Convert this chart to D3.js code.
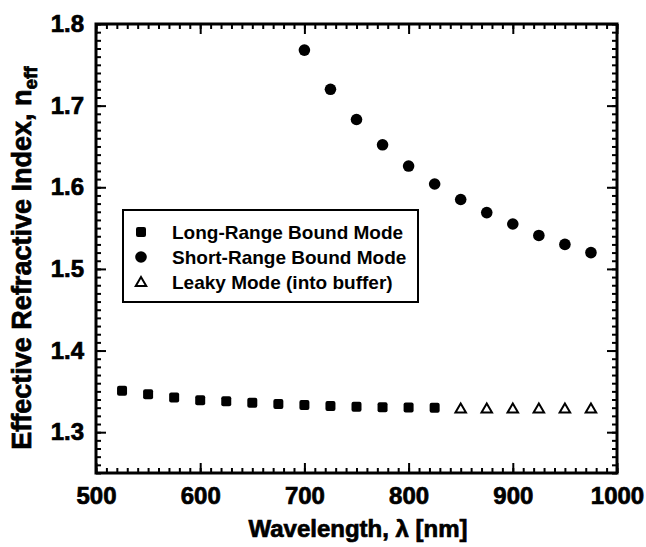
<!DOCTYPE html>
<html>
<head>
<meta charset="utf-8">
<script src="https://cdn.jsdelivr.net/npm/d3@7"></script>
<style>
  html, body { margin: 0; padding: 0; background: #fff; }
  svg { display: block; }
  text { font-family: "Liberation Sans", Arial, Helvetica, sans-serif; font-weight: bold; fill: #000; }
  .heavy { stroke: #000; stroke-width: 0.7px; }
</style>
</head>
<body>
<svg id="chart" width="646" height="547"></svg>
<script>
// Wavelength samples (nm) for each guided mode
const longRangeWavelengths = [525, 550, 575, 600, 625, 650, 675, 700, 725, 750, 775, 800, 825];
const longRangeIndex = [1.3506, 1.3466, 1.3425, 1.3392, 1.3380, 1.3362, 1.3345, 1.3333, 1.3322, 1.3313, 1.3305, 1.3302, 1.3300];

const shortRangeWavelengths = [700, 725, 750, 775, 800, 825, 850, 875, 900, 925, 950, 975];
const shortRangeIndex = [1.768, 1.720, 1.683, 1.652, 1.626, 1.604, 1.585, 1.569, 1.555, 1.541, 1.530, 1.520];

const leakyWavelengths = [850, 875, 900, 925, 950, 975];
const leakyIndex = [1.329, 1.329, 1.329, 1.329, 1.329, 1.329];

const xTicks = [500, 600, 700, 800, 900, 1000];
const yTicks = [1.3, 1.4, 1.5, 1.6, 1.7, 1.8];
const legendLabels = ["Long-Range Bound Mode", "Short-Range Bound Mode", "Leaky Mode (into buffer)"];

const svg = d3.select("#chart");
const margin = { left: 96, top: 24, right: 29, bottom: 74 };
const W = 646, H = 547;
const plotW = W - margin.left - margin.right;
const plotH = H - margin.top - margin.bottom;

const x = d3.scaleLinear().domain([500, 1000]).range([margin.left, margin.left + plotW]);
const y = d3.scaleLinear().domain([1.25, 1.8]).range([margin.top + plotH, margin.top]);

const minorX = d3.range(500, 1001, 10);
const minorY = d3.range(125, 181, 1).map(v => v / 100);

// Inward-pointing ticks on all four sides
function tickAxis(axisGen, transform) {
  const g = svg.append("g").attr("transform", transform).call(axisGen);
  g.select(".domain").remove();
  g.selectAll("line").attr("stroke", "#000").attr("stroke-width", 2);
  return g;
}

const bottomY = margin.top + plotH;
const rightX = margin.left + plotW;

// minor ticks
tickAxis(d3.axisBottom(x).tickValues(minorX).tickSize(-5).tickFormat(""), `translate(0,${bottomY})`);
tickAxis(d3.axisTop(x).tickValues(minorX).tickSize(-5).tickFormat(""), `translate(0,${margin.top})`);
tickAxis(d3.axisLeft(y).tickValues(minorY).tickSize(-5).tickFormat(""), `translate(${margin.left},0)`);
tickAxis(d3.axisRight(y).tickValues(minorY).tickSize(-5).tickFormat(""), `translate(${rightX},0)`);

// major ticks with labels
const xb = tickAxis(d3.axisBottom(x).tickValues(xTicks).tickSize(-10).tickPadding(14).tickFormat(d3.format("d")), `translate(0,${bottomY})`);
tickAxis(d3.axisTop(x).tickValues(xTicks).tickSize(-10).tickFormat(""), `translate(0,${margin.top})`);
const yl = tickAxis(d3.axisLeft(y).tickValues(yTicks).tickSize(-10).tickPadding(12).tickFormat(d3.format(".1f")), `translate(${margin.left},0)`);
tickAxis(d3.axisRight(y).tickValues(yTicks).tickSize(-10).tickFormat(""), `translate(${rightX},0)`);

[xb, yl].forEach(g => g.selectAll("text")
  .attr("font-size", 24)
  .attr("font-family", "'Liberation Sans', Arial, sans-serif")
  .attr("font-weight", "bold")
  .attr("fill", "#000")
  .attr("class", "heavy"));

// plot frame
svg.append("rect")
  .attr("x", margin.left).attr("y", margin.top)
  .attr("width", plotW).attr("height", plotH)
  .attr("fill", "none").attr("stroke", "#000").attr("stroke-width", 3);

// axis titles
svg.append("text")
  .attr("class", "heavy")
  .attr("x", 358).attr("y", 537)
  .attr("text-anchor", "middle").attr("font-size", 24)
  .text("Wavelength, \u03BB [nm]");

const yTitle = svg.append("text")
  .attr("class", "heavy")
  .attr("transform", "translate(31,258) rotate(-90)")
  .attr("text-anchor", "middle").attr("font-size", 27);
yTitle.append("tspan").text("Effective Refractive Index, n");
yTitle.append("tspan").attr("font-size", 19).attr("dy", 6).text("eff");

// data marks
const sq = 10;
svg.append("g").selectAll("rect")
  .data(longRangeWavelengths.map((w, i) => [w, longRangeIndex[i]]))
  .join("rect")
  .attr("x", d => x(d[0]) - sq / 2).attr("y", d => y(d[1]) - sq / 2)
  .attr("width", sq).attr("height", sq).attr("rx", 2)
  .attr("fill", "#000");

svg.append("g").selectAll("circle")
  .data(shortRangeWavelengths.map((w, i) => [w, shortRangeIndex[i]]))
  .join("circle")
  .attr("cx", d => x(d[0])).attr("cy", d => y(d[1])).attr("r", 5.8)
  .attr("fill", "#000");

const tri = d3.symbol().type(d3.symbolTriangle).size(48);
svg.append("g").selectAll("path")
  .data(leakyWavelengths.map((w, i) => [w, leakyIndex[i]]))
  .join("path")
  .attr("d", tri)
  .attr("transform", d => `translate(${x(d[0])},${y(d[1]) + 1})`)
  .attr("fill", "#fff").attr("stroke", "#000").attr("stroke-width", 2);

// legend
const leg = svg.append("g");
leg.append("rect")
  .attr("x", 123).attr("y", 210).attr("width", 295).attr("height", 92)
  .attr("fill", "#fff").attr("stroke", "#000").attr("stroke-width", 2);
const rowY = [232, 257, 282];
leg.append("rect").attr("x", 136).attr("y", rowY[0] - 5).attr("width", sq).attr("height", sq).attr("rx", 2).attr("fill", "#000");
leg.append("circle").attr("cx", 141).attr("cy", rowY[1]).attr("r", 5.8).attr("fill", "#000");
leg.append("path").attr("d", tri).attr("transform", `translate(141,${rowY[2] + 1})`).attr("fill", "#fff").attr("stroke", "#000").attr("stroke-width", 2);
leg.selectAll("text.lab")
  .data(legendLabels)
  .join("text").attr("class", "lab")
  .attr("x", 172).attr("y", (d, i) => rowY[i] + 7)
  .attr("font-size", 19)
  .text(d => d);
</script>
</body>
</html>
